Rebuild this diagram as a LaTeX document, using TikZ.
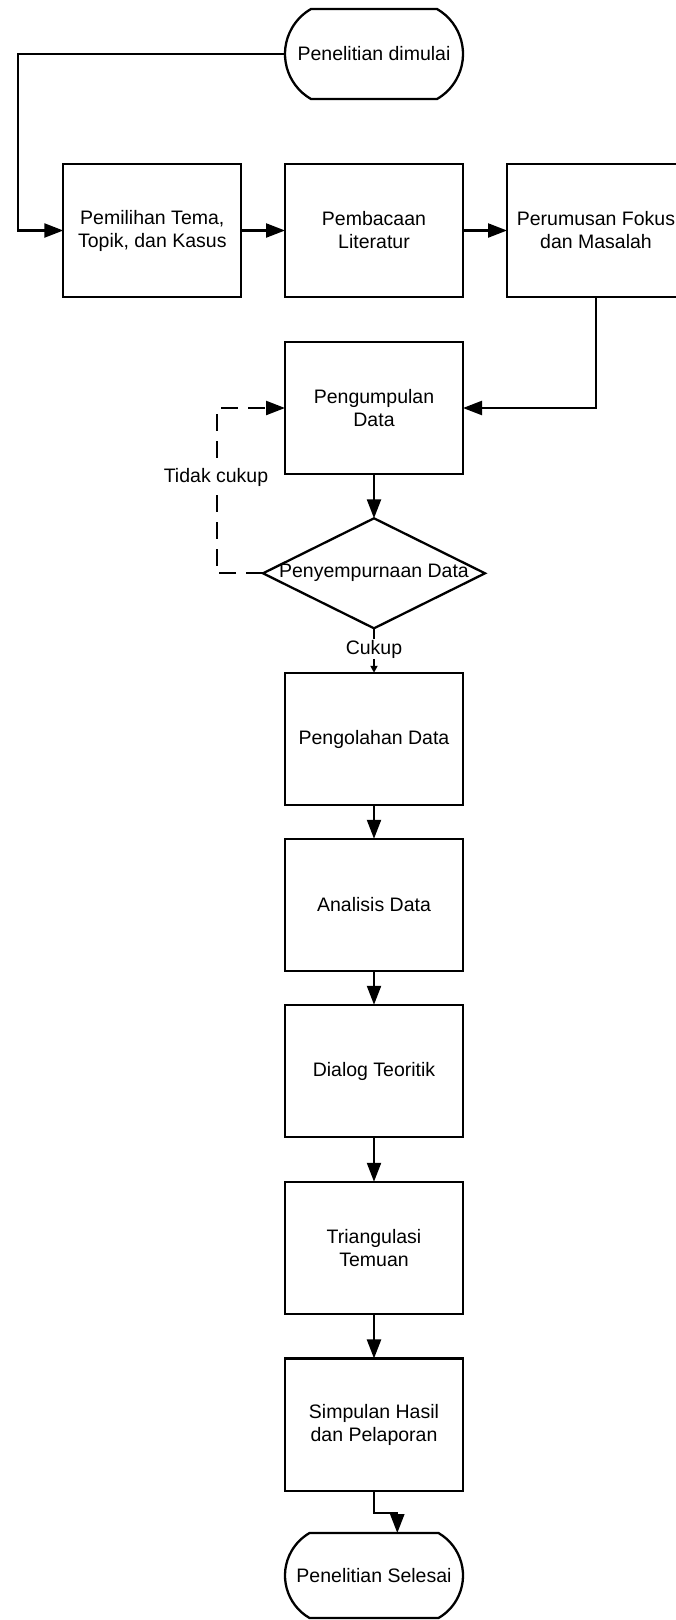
\documentclass[tikz,border=0pt]{standalone}
\usepackage{fontspec}
\setmainfont{Liberation Sans}
\usetikzlibrary{arrows.meta,shapes.geometric,shapes.misc}
\begin{document}
\begin{tikzpicture}[x=1pt,y=-1pt,
  every node/.style={font=\fontsize{19.5}{23}\selectfont, text=black},
  box/.style={draw, line width=2.3pt, minimum width=178pt, minimum height=132.5pt, inner sep=0pt, outer sep=0pt, align=center},
  term/.style={draw, line width=2.3pt, rounded rectangle, rounded rectangle arc length=120, minimum width=178pt, inner sep=0pt, outer sep=0pt},
  dec/.style={draw, line width=2.3pt, diamond, minimum width=222pt, minimum height=110pt, inner sep=0pt, outer sep=0pt},
  conn/.style={line width=2.3pt, -{Triangle[length=19pt,width=14pt]}},
  dashconn/.style={line width=2.3pt, dash pattern=on 17pt off 10pt, -{Triangle[length=19pt,width=14pt]}},
  lbl/.style={fill=white, inner sep=1pt}
]
\useasboundingbox (0,0) rectangle (676,1620);
\clip (0,0) rectangle (676,1620);
\fill[white] (0,0) rectangle (676,1620);

\node[term, minimum height=90pt] (start) at (374,54) {Penelitian dimulai};
\node[box] (b1) at (152.3,230.5) {Pemilihan Tema,\\Topik, dan Kasus};
\node[box] (b2) at (374,230.5) {Pembacaan\\Literatur};
\node[box] (b3) at (596,230.5) {Perumusan Fokus\\dan Masalah};
\node[box] (b4) at (374,408) {Pengumpulan\\Data};
\node[dec] (dia) at (374,573.3) {};
\node (diat) at (374,573.3) {Penyempurnaan Data};
\node[box] (b5) at (374,739) {Pengolahan Data};
\node[box] (b6) at (374,905) {Analisis Data};
\node[box] (b7) at (374,1071) {Dialog Teoritik};
\node[box] (b8) at (374,1248) {Triangulasi\\Temuan};
\node[box] (b9) at (374,1424.7) {Simpulan Hasil\\dan Pelaporan};
\node[term, minimum height=85pt] (end) at (374,1575.5) {Penelitian Selesai};

\coordinate (lft) at (18.3,54);
\draw[conn] (start.west) -- (lft) |- (b1.west);
\draw[conn] (b1.east) -- (b2.west);
\draw[conn] (b2.east) -- (b3.west);
\draw[conn] (b3.south) |- (b4.east);
\draw[conn] (b4.south) -- (dia.north);
\coordinate (dl) at (216.7,573.3);
\draw[dashconn] (dia.west) -- (dl) |- (b4.west);
\node[lbl] (tc) at (216,477) {Tidak cukup};
\draw[line width=2.3pt, -{Triangle[length=7pt,width=7pt]}] (dia.south) -- (b5.north);
\node[lbl] (ck) at (374,649) {Cukup};
\draw[conn] (b5.south) -- (b6.north);
\draw[conn] (b6.south) -- (b7.north);
\draw[conn] (b7.south) -- (b8.north);
\draw[conn] (b8.south) -- (b9.north);
\coordinate (j) at (374,1513.3);
\draw[conn] (b9.south) -- (j) -| ([xshift=23.3pt]end.north);
\end{tikzpicture}
\end{document}
